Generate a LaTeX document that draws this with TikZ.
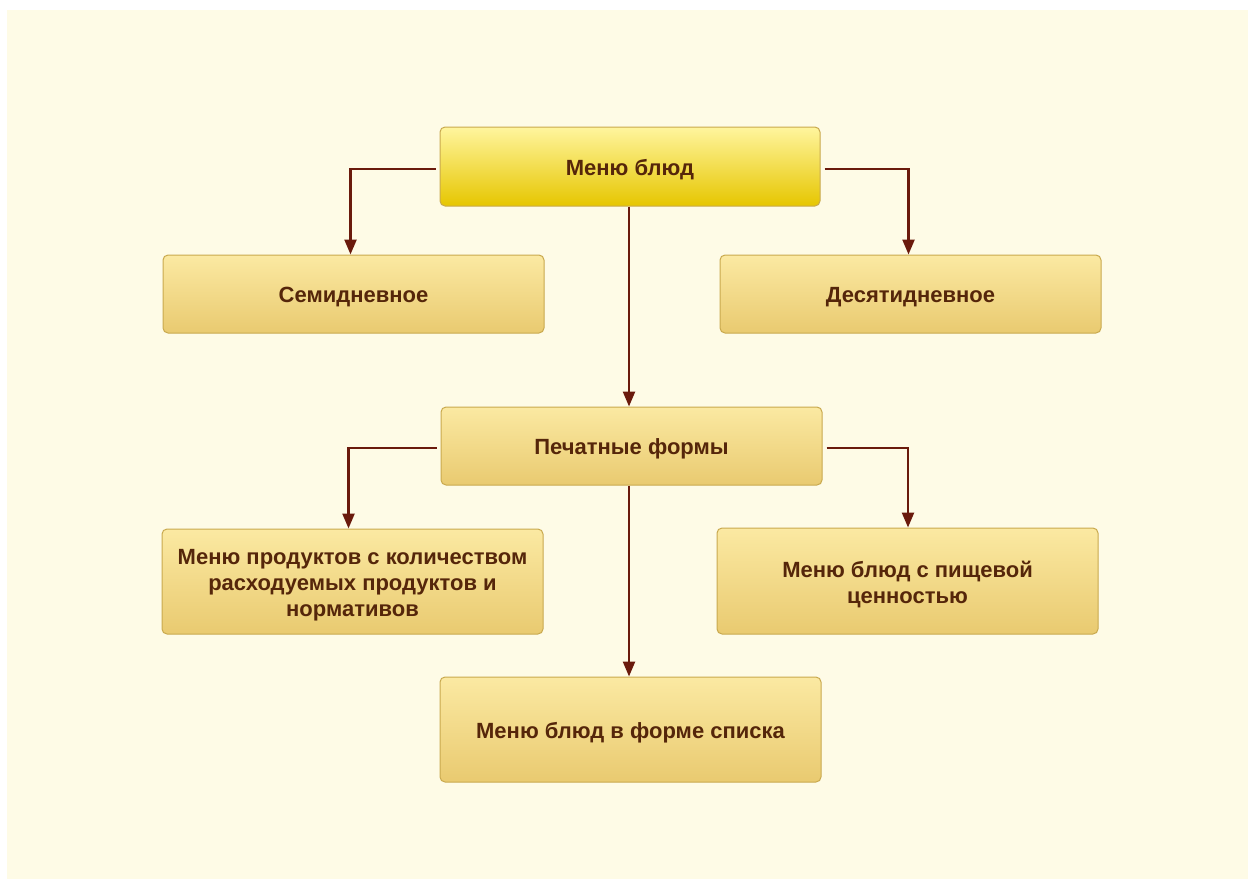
\documentclass[tikz,border=0pt]{standalone}
\usepackage{fontspec}
\setmainfont{Liberation Sans}
\usetikzlibrary{arrows.meta}
\definecolor{bgcream}{HTML}{FEFBE6}
\definecolor{boxtop}{HTML}{FBE9A2}
\definecolor{boxbot}{HTML}{E9CA70}
\definecolor{mtop}{HTML}{FFF59E}
\definecolor{mbot}{HTML}{E6C600}
\definecolor{boxedge}{HTML}{C9A94E}
\definecolor{linec}{HTML}{6A1A0C}
\definecolor{textc}{HTML}{55260A}
\tikzset{
  box/.style={draw=boxedge, line width=1pt, rounded corners=5pt, top color=boxtop, bottom color=boxbot,
    minimum width=381pt, align=center, text=textc, font=\fontsize{22}{26}\selectfont\bfseries, inner sep=0pt},
  onebox/.style={box, text height=22pt},
  mainbox/.style={onebox, top color=mtop, bottom color=mbot},
  conn/.style={draw=linec, line width=2.4pt, -{Triangle[length=15pt,width=12pt]}},
}
\begin{document}
\begin{tikzpicture}[x=1pt,y=-1pt]
\useasboundingbox (0,0) rectangle (1248,879);
\fill[white] (0,0) rectangle (1248,879);
\fill[bgcream] (7,10) rectangle (1248,879);
\node[mainbox, minimum width=380pt, minimum height=79pt] (top) at (630,166.5) {Меню блюд};
\node[onebox, minimum height=78pt] (sem) at (353.5,294) {Семидневное};
\node[onebox, minimum height=78pt] (des) at (910.5,294) {Десятидневное};
\node[onebox, minimum height=78pt] (pech) at (631.5,446) {Печатные формы};
\node[box, minimum height=105pt, text height=74.5pt] (prod) at (352.5,581.5) {Меню продуктов с количеством\\расходуемых продуктов и\\нормативов};
\node[box, minimum height=106pt, text height=48.5pt] (pish) at (907.5,581) {Меню блюд с пищевой\\ценностью};
\node[onebox, minimum height=105pt] (spis) at (630.5,729.5) {Меню блюд в форме списка};
\draw[conn] ([xshift=-4pt,yshift=-2.5pt]top.west) -| ([xshift=-3pt]sem.north);
\draw[conn] ([xshift=4pt,yshift=-2.5pt]top.east) -| ([xshift=-2pt]des.north);
\draw[conn] ([xshift=-1pt]top.south) -- ([xshift=-2.5pt]pech.north);
\draw[conn] ([xshift=-4pt,yshift=-2pt]pech.west) -| ([xshift=-4pt]prod.north);
\draw[conn] ([xshift=4pt,yshift=-2pt]pech.east) -| ([xshift=0.5pt]pish.north);
\draw[conn] ([xshift=-2.5pt]pech.south) -- ([xshift=-1.5pt]spis.north);
\end{tikzpicture}
\end{document}
